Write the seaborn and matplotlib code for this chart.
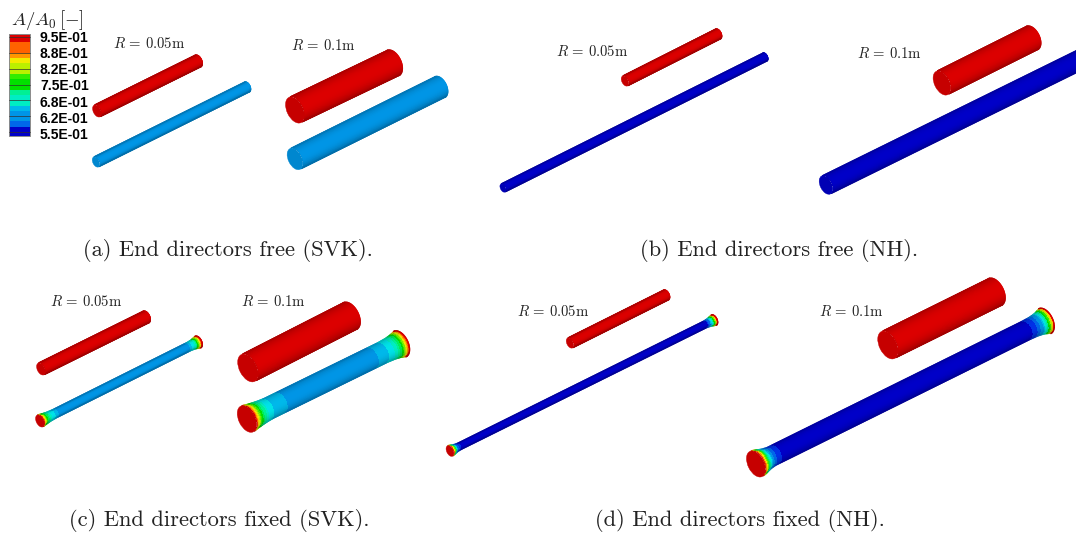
import numpy as np
import matplotlib
matplotlib.use("Agg")
import matplotlib.pyplot as plt
from matplotlib.collections import LineCollection
from matplotlib.patches import Ellipse
import seaborn as sns

sns.set_theme(style="white")
plt.rcParams["mathtext.fontset"] = "cm"

# ---- data ----
level_labels = ["9.5E-01", "8.8E-01", "8.2E-01", "7.5E-01", "6.8E-01", "6.2E-01", "5.5E-01"]
level_values = [0.95, 0.883, 0.817, 0.75, 0.683, 0.617, 0.55]
ramp_colors = ["#0000c8", "#0040f0", "#0088e4", "#00b4ea", "#00e8e8", "#00f0b0", "#00f070", "#00e000",
               "#40f000", "#a0f000", "#f0f000", "#ffc800", "#ff8000", "#ff4000", "#dc0000"]

captions = ["(a) End directors free (SVK).", "(b) End directors free (NH).",
            "(c) End directors fixed (SVK).", "(d) End directors fixed (NH)."]
caption_xy = [(228, 251), (779, 251), (219, 520), (740, 520)]

r_labels = ["0.05", "0.1", "0.05", "0.1", "0.05", "0.1", "0.05", "0.1"]
r_label_xy = [(149, 44), (323, 45), (592, 52), (889, 53), (86, 301), (273, 301), (553, 311), (851, 311)]

RED = 0.95
SVK = 0.615
NH = 0.555
# profile: fraction along rod, radius factor, A/A0 value
prof_red = [(0.0, 1.0, RED), (1.0, 1.0, RED)]
prof_svk = [(0.0, 1.0, SVK), (1.0, 1.0, SVK)]
prof_nh = [(0.0, 1.0, NH), (1.0, 1.0, NH)]
prof_svk_big = [(0.0, 1.3, 0.95), (0.012, 1.26, 0.88), (0.03, 1.2, 0.80), (0.06, 1.12, 0.72), (0.10, 1.04, 0.665),
                (0.14, 1.0, 0.645), (0.21, 1.0, 0.635), (0.23, 1.0, SVK), (0.80, 1.0, SVK), (0.82, 1.0, 0.635),
                (0.88, 1.0, 0.65), (0.93, 1.05, 0.68), (0.96, 1.13, 0.74), (0.98, 1.22, 0.82), (0.99, 1.28, 0.90),
                (1.0, 1.3, 0.95)]
prof_svk_small = [(0.0, 1.45, 0.95), (0.01, 1.38, 0.85), (0.025, 1.25, 0.76), (0.05, 1.1, 0.68), (0.09, 1.0, 0.64),
                  (0.11, 1.0, SVK), (0.92, 1.0, SVK), (0.94, 1.0, 0.64), (0.965, 1.1, 0.69), (0.98, 1.25, 0.77),
                  (0.99, 1.38, 0.86), (1.0, 1.45, 0.95)]
prof_nh_big = [(0.0, 1.4, 0.95), (0.008, 1.36, 0.85), (0.016, 1.28, 0.75), (0.024, 1.18, 0.68), (0.035, 1.08, 0.62),
               (0.05, 1.0, 0.58), (0.07, 1.0, NH), (0.93, 1.0, NH), (0.955, 1.03, 0.59), (0.97, 1.1, 0.63),
               (0.98, 1.18, 0.69), (0.987, 1.27, 0.76), (0.994, 1.35, 0.84), (1.0, 1.4, 0.95)]
prof_nh_small = [(0.0, 1.6, 0.95), (0.006, 1.5, 0.82), (0.014, 1.3, 0.7), (0.022, 1.1, 0.6), (0.035, 1.0, NH),
                 (0.965, 1.0, NH), (0.975, 1.1, 0.6), (0.985, 1.3, 0.7), (0.993, 1.5, 0.82), (1.0, 1.6, 0.95)]

# rods: start, end, half width, profile
rods = [
    ((97, 111), (198, 61), 6.5, prof_red), ((96, 162), (247, 87), 5.5, prof_svk),
    ((295, 110), (393, 63), 14, prof_red), ((295, 159), (440, 87), 11.5, prof_svk),
    ((625, 81), (718, 34), 5.5, prof_red), ((503, 188), (765, 57), 4.5, prof_nh),
    ((942, 83), (1032, 38), 13, prof_red), ((826, 185), (1100, 50), 10, prof_nh),
    ((41, 369), (146, 317), 6.5, prof_red), ((40, 421), (198, 342), 4.5, prof_svk_small),
    ((248, 368), (350, 316), 15, prof_red), ((247, 419), (400, 344), 11, prof_svk_big),
    ((570, 343), (666, 295), 5.5, prof_red), ((450, 451), (714, 320), 3.6, prof_nh_small),
    ((888, 345), (995, 292), 15, prof_red), ((756, 464), (1045, 321), 10, prof_nh_big),
]

cmap = sns.blend_palette(ramp_colors, n_colors=256, as_cmap=True)
V0, V1 = 0.55, 0.95
STEP = (V1 - V0) / 18


def band(v):
    return np.round((np.asarray(v) - V0) / STEP) * STEP + V0


def color_of(v):
    return np.array(cmap(np.clip((band(v) - V0) / (V1 - V0), 0, 1)))[..., :3]


def shade(t):
    return 1 - 0.24 * np.abs(np.asarray(t) + 0.05) ** 2.6


def draw_rod(ax, start, end, hw, prof, e=0.58):
    p0, p1 = np.array(start, float), np.array(end, float)
    d = p1 - p0
    u = d / np.hypot(*d)
    n = np.array([-u[1], u[0]])
    pr = np.array(prof)

    def pts(S, T):
        R = hw * np.interp(S, pr[:, 0], pr[:, 1])
        bulge = e * np.sqrt(np.clip(1 - T ** 2, 0, 1))
        return (p0[0] + S * d[0] + R * (T * n[0] + bulge * u[0]),
                p0[1] + S * d[1] + R * (T * n[1] + bulge * u[1]))

    s = np.linspace(0, 1, 301)
    t = np.linspace(-0.96, 0.96, 65)
    S, T = np.meshgrid(s, t, indexing="ij")
    X, Y = pts(S, T)
    sc = 0.5 * (S[:-1, :-1] + S[1:, 1:])
    tc = 0.5 * (T[:-1, :-1] + T[1:, 1:])
    base = color_of(np.interp(sc, pr[:, 0], pr[:, 2]))
    rgb = np.clip(base * shade(tc)[..., None], 0, 1)
    ax.pcolormesh(X, Y, rgb, shading="flat", antialiased=False, linewidth=0, zorder=2)

    # smooth outer silhouette: long edges and far-end arc
    for edge_t in (-0.985, 0.985):
        xs, ys = pts(s, np.full_like(s, edge_t))
        seg = np.stack([np.c_[xs[:-1], ys[:-1]], np.c_[xs[1:], ys[1:]]], axis=1)
        cols = color_of(np.interp(0.5 * (s[:-1] + s[1:]), pr[:, 0], pr[:, 2])) * shade(edge_t)
        ax.add_collection(LineCollection(seg, colors=cols, linewidths=0.95, capstyle="round", zorder=2.5))
    ta = np.linspace(-1, 1, 41)
    xs, ys = pts(np.ones_like(ta) * 0.999, ta)
    seg = np.stack([np.c_[xs[:-1], ys[:-1]], np.c_[xs[1:], ys[1:]]], axis=1)
    cols = color_of(pr[-1, 2])[None, :] * shade(0.5 * (ta[:-1] + ta[1:]))[:, None]
    ax.add_collection(LineCollection(seg, colors=cols, linewidths=0.95, capstyle="round", zorder=2.5))

    cap = color_of(pr[0, 2]) * 0.9
    rb = hw * pr[0, 1]
    ax.add_patch(Ellipse(p0, 2 * e * rb, 2 * rb, angle=np.degrees(np.arctan2(u[1], u[0])),
                         facecolor=cap, edgecolor=cap, linewidth=0.3, zorder=3))


fig = plt.figure(figsize=(10.76, 5.33), dpi=100, facecolor="white")
ax = fig.add_axes([0, 0, 1, 1])
ax.set_xlim(0, 1076)
ax.set_ylim(533, 0)
ax.axis("off")

for start, end, hw, prof in rods:
    draw_rod(ax, start, end, hw, prof)


# legend colour bar
def bar_y(v):
    return 132 - (np.asarray(v) - V0) / (V1 - V0) * 95


def label_y(v):
    return 135 - (np.asarray(v) - V0) / (V1 - V0) * 97


edges = np.linspace(V0, V1, 19)
ypos = bar_y(edges)
mid = 0.5 * (edges[:-1] + edges[1:])
ybars = np.r_[135.5, ypos, 34]
vbars = np.r_[V0, mid, V1]
ax.pcolormesh([9, 30], ybars, color_of(vbars)[:, None, :], shading="flat", antialiased=False, zorder=2)
ax.plot([9, 30, 30, 9, 9], [34, 34, 135.5, 135.5, 34], color="#8a8a8a", lw=0.7, zorder=3)
for lab, val in zip(level_labels, level_values):
    ax.plot([9, 30], [bar_y(val)] * 2, color="#303030", lw=0.5, zorder=3)
    ax.text(40, label_y(val), lab, family="Liberation Sans", weight="bold", fontsize=10, color="black",
            ha="left", va="center", zorder=4)

ax.text(47, 20, r"$A/A_0\,[-]$", fontsize=13.5, color="#222222", ha="center", va="center")
for lab, (x, y) in zip(r_labels, r_label_xy):
    ax.text(x, y, r"$R\,=\,%s\mathrm{m}$" % lab, fontsize=10.6, color="#222222", ha="center", va="center")
for cap, (x, y) in zip(captions, caption_xy):
    ax.text(x, y, cap, family="cmr10", fontsize=16.2, color="#222222", ha="center", va="center")

fig.savefig("out.png", dpi=100, facecolor="white")
